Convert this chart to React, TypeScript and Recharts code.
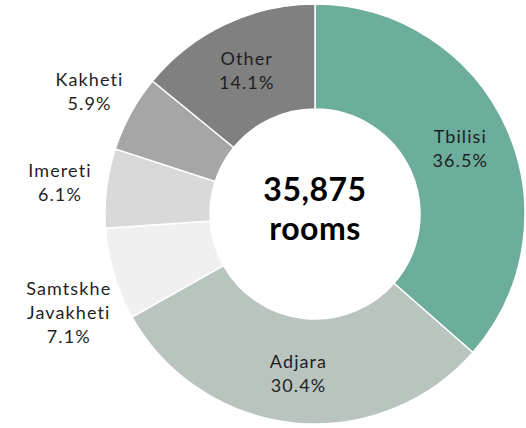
import { PieChart, Pie, Cell } from 'recharts';

const regions = ['Tbilisi', 'Adjara', 'Samtskhe\nJavakheti', 'Imereti', 'Kakheti', 'Other'];
const shares = [36.5, 30.4, 7.1, 6.1, 5.9, 14.1];
const colors = ['#6dad9b', '#bac4be', '#f0f0f0', '#d9d9d9', '#a6a6a6', '#808080'];
const totalRooms = '35,875';
const totalUnit = 'rooms';

const data = regions.map((name, i) => ({ name, value: shares[i] }));

const CX = 315;
const CY = 214;
const RADIAN = Math.PI / 180;
const LINE_H = 24;
const FONT = 'Lato, sans-serif';

// big slices get their label inside the ring, small ones sit outside
function renderLabel(props: any) {
  const { cx, cy, midAngle, outerRadius, innerRadius, index } = props;
  const outside = shares[index] < 10;
  const r = outside ? outerRadius + 47 : (innerRadius + outerRadius) / 2 + 2;
  const x = cx + r * Math.cos(-midAngle * RADIAN);
  let y = cy + r * Math.sin(-midAngle * RADIAN);
  const lines = [...regions[index].split('\n'), shares[index].toFixed(1) + '%'];
  if (lines.length > 2) y += (lines.length - 2) * LINE_H;
  const top = y - ((lines.length - 1) * LINE_H) / 2;
  return (
    <text
      key={'lbl' + index}
      x={x}
      y={top}
      textAnchor="middle"
      dominantBaseline="central"
      fill="#1f1f1f"
      fontSize={18}
      fontFamily={FONT}
      letterSpacing={1.1}
      style={{ fontVariantLigatures: 'none' }}
    >
      {lines.map((l, i) => (
        <tspan key={i} x={x} y={top + i * LINE_H}>
          {l}
        </tspan>
      ))}
    </text>
  );
}

export default function App() {
  return (
    <div style={{ position: 'absolute', left: 0, top: 0, width: 526, height: 428, background: '#fff' }}>
      <PieChart width={526} height={428} margin={{ top: 0, right: 0, bottom: 0, left: 0 }}>
        <Pie
          data={data}
          dataKey="value"
          nameKey="name"
          cx={CX}
          cy={CY}
          innerRadius={105}
          outerRadius={210}
          startAngle={90}
          endAngle={-270}
          stroke="#ffffff"
          strokeWidth={1.5}
          label={renderLabel}
          labelLine={false}
          isAnimationActive={false}
        >
          {data.map((d, i) => (
            <Cell key={d.name} fill={colors[i]} />
          ))}
        </Pie>
        <g fontFamily={FONT} fontWeight={700} fill="#000" textAnchor="middle">
          <text x={CX} y={CY - 26} dominantBaseline="central" fontSize={32} letterSpacing={0.5}>
            {totalRooms}
          </text>
          <text x={CX} y={CY + 13} dominantBaseline="central" fontSize={32} letterSpacing={0.5}>
            {totalUnit}
          </text>
        </g>
      </PieChart>
    </div>
  );
}
